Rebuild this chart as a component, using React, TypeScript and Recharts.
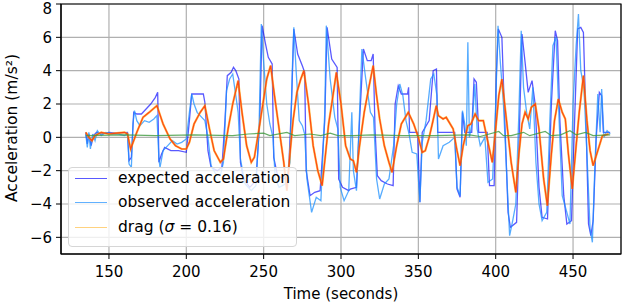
import { CartesianGrid, Line, LineChart, ReferenceArea, XAxis, YAxis } from 'recharts';

// [time (s), acceleration (m/s^2)]
const expected: [number, number][] = [
  [135, 0.3], [136, -0.4], [137, 0.2], [138.5, -0.5], [140, 0.1], [142, 0.3], [145, 0.2], [150, 0.3],
  [155, 0.25], [162, 0.3], [163, -1.4], [164.5, -1.2], [166, 1.5], [168, 1.4], [171, 1.4], [174, 1.7],
  [177, 2.0], [180, 2.4], [181.5, 2.7], [182.3, -1.5], [184, -1.0], [186, -0.6], [190, -0.8], [195, -0.8],
  [200, -0.9], [202, 1.0], [203.5, 2.6], [206, 2.6], [211, 2.6], [212, 2.1], [214, -0.8], [216, -1.8],
  [220, -2.0], [223, -1.8], [225, 1.0], [226.5, 3.7], [229, 3.9], [230.5, 4.2], [232, 4.0], [234, 3.5],
  [235, -1.5], [237, -2.5], [241, -3.0], [245, -2.6], [247.5, 1.0], [249, 6.7], [251, 5.7], [253, 4.8],
  [255.5, 4.4], [256.5, -1.2], [259, -2.3], [263, -2.5], [266, -2.3], [268, 2.0], [269.5, 6.5], [272, 5.0],
  [275, 4.3], [276.5, 3.9], [277.5, -2.0], [280, -3.5], [283, -3.3], [286.5, -3.2], [289.5, 1.0], [291, 6.6],
  [294, 4.7], [297.5, 4.2], [298.5, -2.5], [301, -3.0], [305, -3.2], [306, -3.1], [310, -3.0], [312, 1.0],
  [314.5, 5.3], [317, 4.6], [319.5, 4.6], [320.8, 5.0], [322, 0.5], [323.5, -2.3], [326, -2.6], [330, -2.8],
  [333.7, -2.9], [335, 2.0], [337, 3.1], [339, 2.6], [343, 2.6], [343.7, 3.0], [344.3, 0.3], [349.5, 0.3],
  [351, -3.9], [352.5, 0.3], [357, 1.0], [359.6, 4.0], [361.7, 4.1], [362.5, 0.3], [373.5, 0.3], [375, -3.1],
  [377, -3.6], [378.5, 1.5], [380, 0.3], [384.5, 0.3], [386, 3.5], [387.5, 3.3], [389, 0.3], [394.5, 0.3],
  [396, -2.9], [399, -2.9], [400.5, 4.0], [401.7, 6.5], [404, 6.0], [405.5, 2.0], [408, -4.5], [409.5, -5.4],
  [413.5, -5.1], [415.5, 1.0], [417, 6.2], [419, 4.5], [421, 2.7], [423.5, 3.4], [425.5, 2.0], [428, -3.0],
  [430, -4.8], [433.5, -4.9], [436, 2.0], [438.5, 6.4], [440, 5.8], [441.5, 1.0], [444, -3.5], [446, -5.2],
  [449, -5.0], [451, 1.0], [453, 6.5], [455, 6.6], [456.7, 6.3], [458.5, 0.5], [460, -5.2], [461.5, -5.9],
  [463, -5.0], [465, 0.0], [467, 2.7], [468.5, 2.5], [469.6, 0.3], [474, 0.3],
];

const observed: [number, number][] = [
  [135, 0.2], [136, -0.6], [137, 0.3], [138, -0.7], [139.5, 0.2], [141, -0.2], [142.5, 0.4], [145, 0.1],
  [148, 0.3], [152, 0.2], [156, 0.2], [160, 0.1], [162, 0.2], [163, -1.6], [164.5, -1.8], [165.5, 0.8],
  [166.5, 1.6], [168, 1.0], [170, 0.7], [173, 1.0], [176, 0.9], [179, 1.1], [181, 1.3], [182.3, -1.3],
  [183, -1.8], [185, -0.8], [188, -0.5], [191, -0.2], [194, -0.4], [197, -0.3], [200, -0.1], [202, 1.5],
  [203.5, 2.6], [205, 2.0], [207, 1.5], [210, 1.2], [212, 1.0], [214, 0.0], [216, -1.7], [219, -2.2],
  [222, -2.3], [224, -1.5], [226, 2.8], [228, 3.5], [230, 3.8], [232, 2.5], [233.5, 1.5], [235, -1.3],
  [238, -2.8], [242, -3.2], [245, -2.9], [247, 0.5], [248.5, 6.8], [250, 4.5], [252, 2.0], [254, 0.8],
  [256, 0.0], [257.5, -2.5], [260, -3.0], [264, -2.8], [267, -1.5], [268.5, 4.0], [269.5, 6.6], [271, 4.0],
  [273, 1.0], [275, 0.7], [276.5, 0.2], [278, -2.5], [281, -4.5], [284, -3.6], [287, -3.8], [289.5, 1.5],
  [290.5, 6.7], [293, 3.5], [296, 1.2], [298, 0.5], [299.5, -3.0], [302, -3.8], [305, -3.2], [307, 1.5],
  [308, -2.0], [310, -3.2], [312, 1.5], [313.5, 5.3], [316, 3.5], [319, 1.5], [321, 1.2], [323, -2.5],
  [325, -3.7], [328, -2.8], [331, -2.5], [334, -0.5], [336, 2.0], [338, 3.2], [340, 2.5], [342, 1.0],
  [344, 0.2], [346, -0.9], [349, -1.0], [351, -3.9], [352.5, -0.3], [355, 1.0], [358, 3.5], [360, 3.8],
  [362, 2.5], [363, -1.3], [366, -0.5], [370, -0.3], [373.5, 0.0], [375, -3.0], [377, -3.5], [378.5, 1.6],
  [380, 0.8], [381, -0.5], [382, 5.7], [383, 0.0], [385, 1.0], [386.5, 3.2], [388, 0.5], [390, -0.5],
  [393, 0.0], [395, -2.7], [398, -2.5], [400, 2.0], [401.5, 6.7], [403, 4.5], [405, 2.0], [407, -2.0],
  [409, -5.9], [411, -5.0], [413, -4.0], [415, 1.5], [416.5, 6.4], [418, 3.0], [420, 1.5], [422, 0.5],
  [424, 3.0], [426, -1.5], [428, -4.0], [430, -5.0], [433, -4.5], [435, 1.0], [437, 5.5], [439, 6.0],
  [441, 1.0], [443, -3.5], [446, -4.5], [448, -5.2], [450, 2.0], [452, 5.5], [453.5, 7.4], [455, 4.0],
  [457, 3.0], [459, -1.0], [461, -5.5], [462.5, -6.3], [464, -2.0], [466, 2.6], [467.5, 0.3], [468.5, 2.9],
  [470, 0.0], [472, 0.4], [474, 0.2],
];

const drag: [number, number][] = [
  [135, 0.3], [137, 0.0], [139, -0.2], [141, 0.1], [145, 0.3], [150, 0.2], [155, 0.25], [160, 0.3],
  [162, 0.2], [164, -0.7], [168, 0.3], [172, 1.2], [176, 1.5], [181, 1.9], [185, 0.8], [189.5, -0.1],
  [193, -0.5], [197, -0.7], [200, -0.7], [202, -0.3], [205, 0.8], [209, 1.5], [212, 1.9], [215, 0.5],
  [218, -0.8], [222, -1.5], [224, -1.3], [227, 0.5], [230, 2.0], [233.5, 3.4], [236, 1.5], [239, -0.5],
  [242, -1.5], [244, -1.2], [247, 0.5], [250, 2.3], [252, 3.5], [254.5, 4.3], [257, 2.5], [260, 0.5],
  [263, -1.5], [265, -3.2], [267, -1.0], [269, 1.0], [271.5, 2.7], [274, 3.5], [276, 4.0], [279, 2.0],
  [282, -0.5], [285, -2.0], [287.8, -2.9], [290, -1.0], [292, 0.8], [294, 2.0], [297, 3.9], [300, 2.0],
  [303, -0.5], [306, -1.3], [308, -1.4], [310, -2.1], [312, -0.5], [315, 1.5], [318, 3.0], [320.8, 4.3],
  [323, 2.5], [325, 1.1], [328, -0.5], [331, -1.5], [333, -2.1], [336, -0.5], [339, 0.8], [343.5, 1.5],
  [347, 0.8], [350, 0.0], [352.5, -0.9], [354.5, -0.8], [357, 0.0], [359, 0.8], [361.6, 1.9], [363, 1.3],
  [366, 1.1], [368, 1.2], [372.5, 0.5], [375, -0.8], [377, -1.7], [379, -0.5], [382, 0.7], [384, 0.8],
  [386.7, 1.4], [389, 1.0], [392, 1.0], [395, -0.3], [397.8, -1.5], [400, 0.5], [402, 2.5], [404, 3.5],
  [407, 1.0], [410, -1.5], [413, -3.3], [415, -1.0], [417, 0.8], [419, 1.5], [421, 1.1], [423, 1.8],
  [425.6, 2.0], [428, 0.5], [431, -2.5], [433.4, -4.1], [436, -1.0], [438, 1.0], [440.5, 2.3], [443, 1.5],
  [445, 1.1], [447, -1.0], [449.5, -3.1], [452, -0.5], [454, 1.5], [456.7, 3.7], [459, 1.0], [461, -0.8],
  [463, -1.7], [466, -0.8], [469, 0.1], [473, 0.2],
];

const residual: [number, number][] = [
  [135, 0.1], [160, 0.15], [180, 0.1], [205, 0.15], [230, 0.1], [240, 0.2], [250, 0.25], [254, 0.1],
  [265, 0.3], [270, 0.1], [280, 0.2], [287, 0.1], [293, 0.25], [298, 0.1], [308, 0.1], [320, 0.15],
  [340, 0.1], [360, 0.1], [383, 0.15], [390, 0.05], [402, 0.35], [405, 0.1], [410, 0.1], [418, 0.3],
  [422, 0.1], [432, 0.35], [436, 0.1], [442, 0.15], [448, 0.4], [452, 0.15], [458, 0.3], [463, 0.1],
  [474, 0.15],
];

const xTicks = [150, 200, 250, 300, 350, 400, 450];
const yTicks = [-6, -4, -2, 0, 2, 4, 6, 8];

const toRows = (pts: [number, number][]) => pts.map(([t, v]) => ({ t, v }));

const font = "'DejaVu Sans', sans-serif";
const fmtY = (v: number) => (v < 0 ? `\u2212${-v}` : `${v}`);

const legendItems = [
  { label: 'expected acceleration', color: '#0000ff', opacity: 0.65, top: 179 },
  { label: 'observed acceleration', color: '#1e90ff', opacity: 0.7, top: 203 },
  { label: 'drag', color: '#ffa500', opacity: 0.5, top: 228 },
];

export default function App() {
  return (
    <div style={{ position: 'relative', width: 640, height: 303, fontFamily: font }}>
      <style>{'body{margin:0}'}</style>
      <LineChart width={640} height={303} margin={{ top: 4, right: 19, bottom: 0, left: 0 }}>
        <CartesianGrid stroke="#b0b0b0" strokeWidth={1.2} />
        <XAxis
          type="number"
          dataKey="t"
          domain={[119, 481]}
          ticks={xTicks}
          allowDataOverflow
          height={49}
          stroke="#000"
          tickSize={5}
          tickMargin={7}
          tick={{ fill: '#000', fontSize: 15, fontFamily: font }}
          label={{ value: 'Time (seconds)', position: 'insideBottom', offset: 4, fill: '#000', fontSize: 15, fontFamily: font }}
        />
        <YAxis
          type="number"
          domain={[-7, 8]}
          ticks={yTicks}
          allowDataOverflow
          width={61}
          stroke="#000"
          tickSize={5}
          tickMargin={4}
          tickFormatter={fmtY}
          tick={{ fill: '#000', fontSize: 15, fontFamily: font }}
          label={{
            content: () => (
              <text
                x={12}
                y={128}
                transform="rotate(-90 12 128)"
                textAnchor="middle"
                dominantBaseline="central"
                fill="#000"
                fontSize={15.5}
                fontFamily={font}
              >
                Acceleration (m/s²)
              </text>
            ),
          }}
        />
        <Line data={toRows(expected)} dataKey="v" type="linear" stroke="#0000ff" strokeOpacity={0.65} strokeWidth={1.3} dot={false} isAnimationActive={false} />
        <Line data={toRows(observed)} dataKey="v" type="linear" stroke="#1e90ff" strokeOpacity={0.75} strokeWidth={1.3} dot={false} isAnimationActive={false} />
        <Line data={toRows(drag)} dataKey="v" type="linear" stroke="#ffa500" strokeOpacity={0.7} strokeWidth={2.2} dot={false} isAnimationActive={false} />
        <Line data={toRows(drag)} dataKey="v" type="linear" stroke="#ff3d10" strokeOpacity={0.9} strokeWidth={1.2} dot={false} isAnimationActive={false} />
        <Line data={toRows(residual)} dataKey="v" type="linear" stroke="#3f9a3f" strokeOpacity={0.8} strokeWidth={1.2} dot={false} isAnimationActive={false} />
        <ReferenceArea x1={119} x2={481} y1={-7} y2={8} fill="none" stroke="#000" strokeWidth={1.2} ifOverflow="visible" />
      </LineChart>
      <div
        style={{
          position: 'absolute',
          left: 68,
          top: 167,
          width: 229,
          height: 80,
          boxSizing: 'border-box',
          border: '1px solid #d6d6d6',
          borderRadius: 4,
          background: 'rgba(255,255,255,0.8)',
        }}
      />
      {legendItems.map((it) => (
        <div key={it.label}>
          <div
            style={{
              position: 'absolute',
              left: 75,
              top: it.top - 1,
              width: 32,
              height: 0,
              borderTop: `1.5px solid ${it.color}`,
              opacity: it.opacity,
            }}
          />
          <div
            style={{
              position: 'absolute',
              left: 118,
              top: it.top - 10,
              fontSize: 15.5,
              lineHeight: '19px',
              color: '#000',
              whiteSpace: 'nowrap',
            }}
          >
            {it.label === 'drag' ? (
              <>
                drag (<i>σ</i> = 0.16)
              </>
            ) : (
              it.label
            )}
          </div>
        </div>
      ))}
    </div>
  );
}
